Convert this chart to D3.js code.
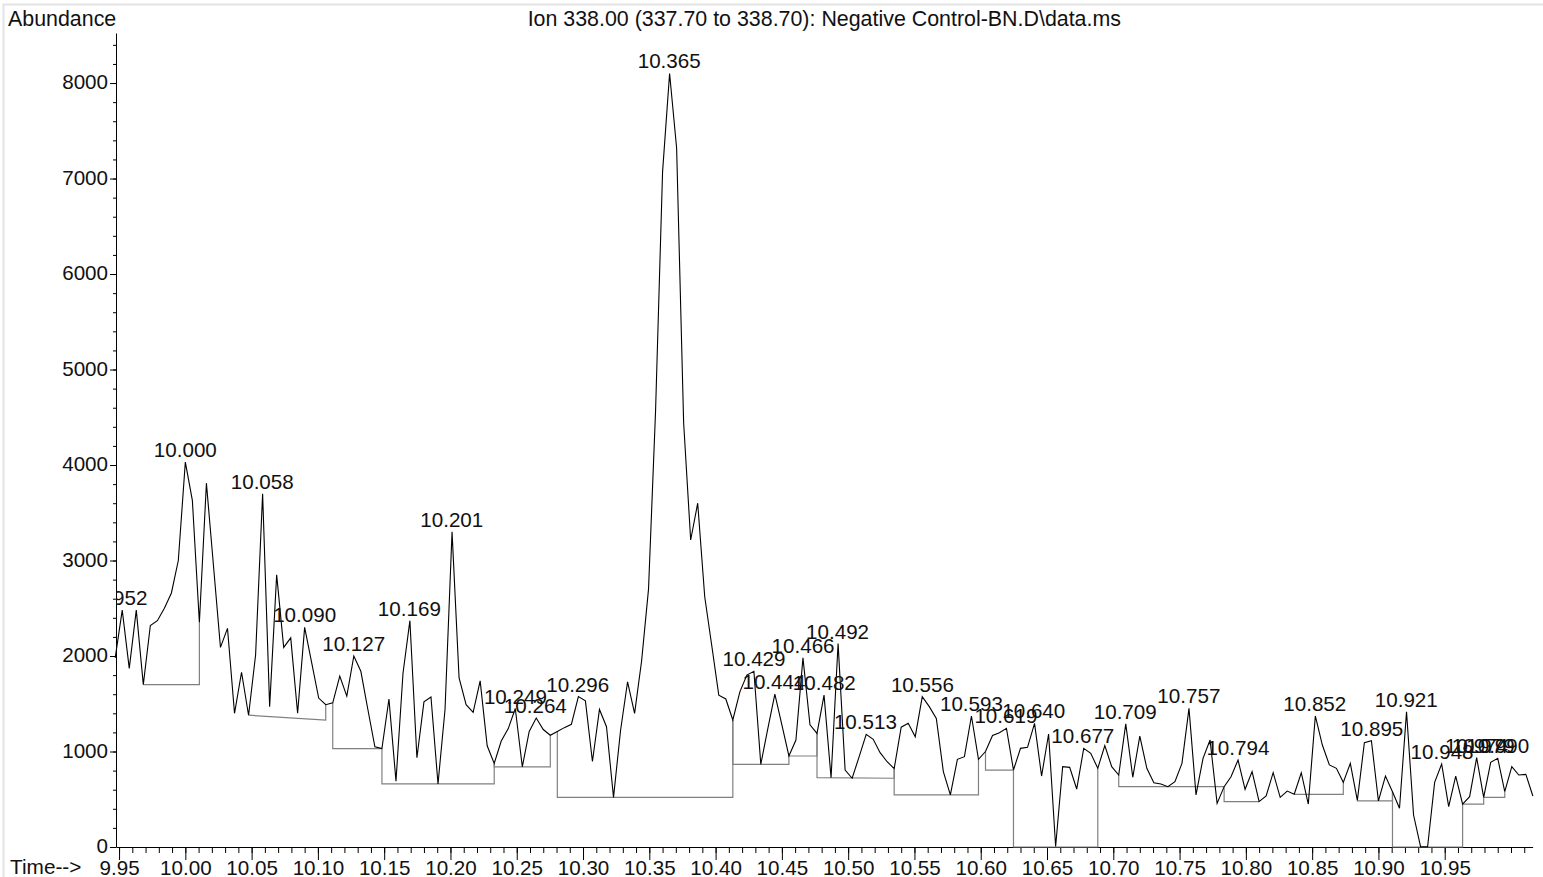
<!DOCTYPE html>
<html>
<head>
<meta charset="utf-8">
<script src="https://cdn.jsdelivr.net/npm/d3@7"></script>
<style>
body { margin: 0; background: #fff; }
svg { display: block; font-family: "Liberation Sans", Arial, sans-serif; }
</style>
</head>
<body>
<div id="graph"></div>
<script>
// scan times (min) and abundance for ion 338.00
var times = [
	9.9471, 9.9524, 9.9577, 9.9630, 9.9683, 9.9736, 9.9789, 9.9842, 9.9895, 9.9947,
	10.0000, 10.0053, 10.0106, 10.0159, 10.0212, 10.0265, 10.0318, 10.0371, 10.0424, 10.0477,
	10.0530, 10.0583, 10.0636, 10.0689, 10.0742, 10.0795, 10.0847, 10.0900, 10.0953, 10.1006,
	10.1059, 10.1112, 10.1165, 10.1218, 10.1271, 10.1324, 10.1377, 10.1430, 10.1483, 10.1536,
	10.1589, 10.1642, 10.1694, 10.1747, 10.1800, 10.1853, 10.1906, 10.1959, 10.2012, 10.2065,
	10.2118, 10.2171, 10.2224, 10.2277, 10.2330, 10.2383, 10.2436, 10.2489, 10.2542, 10.2594,
	10.2647, 10.2700, 10.2753, 10.2806, 10.2859, 10.2912, 10.2965, 10.3018, 10.3071, 10.3124,
	10.3177, 10.3230, 10.3283, 10.3336, 10.3389, 10.3442, 10.3494, 10.3547, 10.3600, 10.3653,
	10.3706, 10.3759, 10.3812, 10.3865, 10.3918, 10.3971, 10.4024, 10.4077, 10.4130, 10.4183,
	10.4236, 10.4289, 10.4341, 10.4394, 10.4447, 10.4500, 10.4553, 10.4606, 10.4659, 10.4712,
	10.4765, 10.4818, 10.4871, 10.4924, 10.4977, 10.5030, 10.5083, 10.5136, 10.5189, 10.5241,
	10.5294, 10.5347, 10.5400, 10.5453, 10.5506, 10.5559, 10.5612, 10.5665, 10.5718, 10.5771,
	10.5824, 10.5877, 10.5930, 10.5983, 10.6036, 10.6089, 10.6141, 10.6194, 10.6247, 10.6300,
	10.6353, 10.6406, 10.6459, 10.6512, 10.6565, 10.6618, 10.6671, 10.6724, 10.6777, 10.6830,
	10.6883, 10.6936, 10.6988, 10.7041, 10.7094, 10.7147, 10.7200, 10.7253, 10.7306, 10.7359,
	10.7412, 10.7465, 10.7518, 10.7571, 10.7624, 10.7677, 10.7730, 10.7783, 10.7836, 10.7888,
	10.7941, 10.7994, 10.8047, 10.8100, 10.8153, 10.8206, 10.8259, 10.8312, 10.8365, 10.8418,
	10.8471, 10.8524, 10.8577, 10.8630, 10.8683, 10.8735, 10.8788, 10.8841, 10.8894, 10.8947,
	10.9000, 10.9053, 10.9106, 10.9159, 10.9212, 10.9265, 10.9318, 10.9371, 10.9424, 10.9477,
	10.9530, 10.9583, 10.9635, 10.9688, 10.9741, 10.9794, 10.9847, 10.9900, 10.9953, 11.0006,
	11.0059, 11.0112, 11.0165
]

var abundance = [
	1980, 2480, 1870, 2480, 1700, 2320, 2370, 2500, 2660, 3000,
	4030, 3630, 2350, 3810, 2950, 2090, 2290, 1400, 1830, 1380,
	2010, 3700, 1470, 2850, 2090, 2190, 1400, 2300, 1930, 1560,
	1490, 1510, 1790, 1580, 2000, 1840, 1440, 1050, 1030, 1550,
	690, 1820, 2370, 935, 1520, 1570, 660, 1440, 3300, 1770,
	1490, 1410, 1740, 1060, 875, 1110, 1240, 1450, 840, 1210,
	1350, 1230, 1170, 1210, 1250, 1285, 1575, 1530, 895, 1440,
	1260, 520, 1220, 1730, 1400, 1950, 2700, 4560, 7070, 8100,
	7320, 4440, 3215, 3600, 2620, 2110, 1590, 1550, 1330, 1625,
	1800, 1840, 866, 1240, 1600, 1280, 953, 1120, 1980, 1280,
	1190, 1590, 726, 2130, 806, 720, 946, 1180, 1128, 988,
	893, 820, 1255, 1295, 1155, 1575, 1470, 1347, 790, 545,
	918, 946, 1372, 918, 1000, 1168, 1197, 1243, 806, 1033,
	1044, 1295, 743, 1183, 5, 841, 834, 607, 1033, 981,
	824, 1063, 841, 754, 1290, 730, 1162, 824, 673, 660,
	632, 684, 876, 1452, 545, 929, 1120, 457, 632, 736,
	911, 604, 789, 475, 534, 778, 520, 586, 552, 778,
	450, 1372, 1068, 859, 824, 677, 876, 488, 1092, 1113,
	482, 743, 579, 405, 1417, 335, 3, 3, 677, 869,
	422, 743, 450, 527, 935, 520, 887, 929, 579, 841,
	754, 761, 534
]

var peakLabels = ['9.952', '10.000', '10.058', '10.090', '10.127', '10.169', '10.201', '10.249',
	'10.264', '10.296', '10.365', '10.429', '10.444', '10.466', '10.482', '10.492', '10.513',
	'10.556', '10.593', '10.619', '10.640', '10.677', '10.709', '10.757', '10.794', '10.852',
	'10.895', '10.921', '10.948', '10.974', '10.979', '10.990']

// integration baselines: scan index at start / end, abundance at start / end
var baseStart = [4, 19, 31, 38, 54, 63, 88, 96, 100, 111, 124, 128, 143, 158, 168, 177, 182, 192, 195]
var baseEnd   = [12, 30, 38, 54, 62, 88, 96, 100, 111, 123, 128, 140, 158, 163, 175, 182, 192, 195, 198]
var baseFrom  = [1700, 1380, 1030, 660, 840, 520, 866, 953, 726, 545, 806, 0, 632, 475, 552, 482, 0, 450, 520]
var baseTo    = [1700, 1330, 1030, 660, 840, 520, 866, 953, 720, 545, 806, 0, 632, 475, 552, 482, 0, 450, 520]

var xTicks = [9.95, 10.00, 10.05, 10.10, 10.15, 10.20, 10.25, 10.30, 10.35, 10.40, 10.45,
	10.50, 10.55, 10.60, 10.65, 10.70, 10.75, 10.80, 10.85, 10.90, 10.95]
var yTicks = [0, 1000, 2000, 3000, 4000, 5000, 6000, 7000, 8000]

var title = 'Ion 338.00 (337.70 to 338.70): Negative Control-BN.D\\data.ms'

var width = 1543, height = 877
var plotL = 116, plotR = 1532.6, plotT = 33, plotB = 847
var fs = 20.6

var svg = d3.select('#graph').append('svg')
	.attr('width', width)
	.attr('height', height)

// faint frame of the original window
svg.append('path')
	.attr('d', 'M3.5,' + height + 'V4.5H' + width)
	.attr('fill', 'none')
	.attr('stroke', '#e3e3e3')
	.attr('stroke-width', 2)

var x = d3.scaleLinear().domain([9.9477, 11.0163]).range([plotL, plotR])
var y = d3.scaleLinear().domain([0, 8524]).range([plotB, plotT])

svg.append('clipPath').attr('id', 'plot-clip')
	.append('rect')
	.attr('x', plotL).attr('y', 0)
	.attr('width', width - plotL).attr('height', plotB)

// axes
var xMinor = d3.range(0, 107).map(i => 9.95 + i*0.01)
var yMinor = d3.range(0, 8401, 200)

svg.append('g')
	.attr('transform', 'translate(0,' + plotB + ')')
	.call(d3.axisBottom(x).tickValues(xMinor).tickSize(6).tickSizeOuter(0).tickFormat(''))
	.call(g => g.select('.domain').remove())

var xAxis = svg.append('g')
	.attr('transform', 'translate(0,' + plotB + ')')
	.call(d3.axisBottom(x).tickValues(xTicks).tickSize(13).tickSizeOuter(0).tickPadding(0)
		.tickFormat(d3.format('.2f')))

svg.append('g')
	.attr('transform', 'translate(' + plotL + ',0)')
	.call(d3.axisLeft(y).tickValues(yMinor).tickSize(3).tickSizeOuter(0).tickFormat(''))
	.call(g => g.select('.domain').remove())

var yAxis = svg.append('g')
	.attr('transform', 'translate(' + plotL + ',0)')
	.call(d3.axisLeft(y).tickValues(yTicks).tickSize(6).tickSizeOuter(0).tickPadding(2)
		.tickFormat(d3.format('d')))

svg.selectAll('.tick text')
	.attr('font-size', fs)
	.attr('font-family', '"Liberation Sans", Arial, sans-serif')
	.attr('fill', '#111')
yAxis.selectAll('.tick text').attr('dy', '0.28em')

svg.append('text')
	.attr('x', 10).attr('y', 874)
	.attr('font-size', 20.8).attr('fill', '#111')
	.text('Time-->')

svg.append('text')
	.attr('x', 8).attr('y', 26)
	.attr('font-size', 21.4).attr('fill', '#111')
	.text('Abundance')

svg.append('text')
	.attr('x', (plotL + plotR)/2).attr('y', 26)
	.attr('text-anchor', 'middle')
	.attr('font-size', 21.4).attr('fill', '#111')
	.text(title)

// baselines
var bases = baseStart.map((s, k) => ({s, e: baseEnd[k], from: baseFrom[k], to: baseTo[k]}))

svg.append('g').selectAll('path')
	.data(bases)
	.join('path')
	.attr('d', d => 'M' + [x(times[d.s]), y(abundance[d.s])] +
		'L' + [x(times[d.s]), y(d.from)] +
		'L' + [x(times[d.e]), y(d.to)] +
		'L' + [x(times[d.e]), y(abundance[d.e])])
	.attr('fill', 'none')
	.attr('stroke', '#808080')
	.attr('stroke-width', 1.2)

// trace
var line = d3.line()
	.x((d, i) => x(times[i]))
	.y(d => y(d))

svg.append('path')
	.datum(abundance)
	.attr('d', line)
	.attr('fill', 'none')
	.attr('stroke', '#000')
	.attr('stroke-width', 1.1)
	.attr('stroke-linejoin', 'miter')

// peak labels, placed just above the apex
var labels = peakLabels.map(str => {
	var i = d3.minIndex(times, t => Math.abs(t - +str))
	var apex = d3.max([i - 1, i, i + 1].filter(j => j >= 0 && j < abundance.length), j => abundance[j])
	return {str, t: +str, apex}
})

svg.append('g')
	.attr('clip-path', 'url(#plot-clip)')
	.selectAll('text')
	.data(labels)
	.join('text')
	.attr('x', d => x(d.t))
	.attr('y', d => y(d.apex) - 5)
	.attr('text-anchor', 'middle')
	.attr('font-size', fs)
	.attr('fill', '#111')
	.text(d => d.str)
</script>
</body>
</html>
